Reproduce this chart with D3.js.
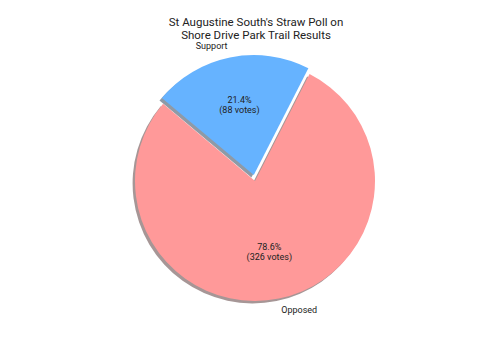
<!DOCTYPE html>
<html><head><meta charset="utf-8">
<script src="https://cdn.jsdelivr.net/npm/d3@7"></script>
<style>body{margin:0;background:#fff}svg{display:block}</style>
</head><body>
<svg id="c" width="500" height="350"></svg>
<script>
const categories = ["Support", "Opposed"];
const votes = [88, 326];
const percents = [21.4, 78.6];
const colors = ["#66b3ff", "#ff9999"];
const explode = [0.05, 0];
const titleLines = ["St Augustine South's Straw Poll on", "Shore Drive Park Trail Results"];

const W = 500, H = 350, cx = 255, cy = 181, R = 120;
const svg = d3.select("#c");
const font = "Roboto, 'Open Sans', sans-serif";

const data = categories.map((c, i) => ({cat: c, votes: votes[i], pct: percents[i], color: colors[i], explode: explode[i]}));
const pie = d3.pie().sort(null).value(d => d.pct).startAngle(-50 * Math.PI / 180).endAngle(310 * Math.PI / 180);
const arcs = pie(data);
const arc = d3.arc().innerRadius(0).outerRadius(R);

function offset(a) {
  const mid = (a.startAngle + a.endAngle) / 2;
  const e = a.data.explode * R;
  return [cx + e * Math.sin(mid), cy - e * Math.cos(mid)];
}

const g = svg.append("g");
const sh = R * 0.02;
// shadows
g.selectAll("path.shadow").data(arcs).join("path")
  .attr("class", "shadow")
  .attr("transform", d => { const [x, y] = offset(d); return `translate(${x - sh},${y + sh})`; })
  .attr("d", arc)
  .attr("fill", d => { const c = d3.rgb(d.data.color); return d3.rgb(c.r * 0.3, c.g * 0.3, c.b * 0.3); })
  .attr("fill-opacity", 0.5);
// wedges
g.selectAll("path.wedge").data(arcs).join("path")
  .attr("class", "wedge")
  .attr("transform", d => { const [x, y] = offset(d); return `translate(${x},${y})`; })
  .attr("d", arc)
  .attr("fill", d => d.data.color);

// category labels
arcs.forEach(d => {
  const [x, y] = offset(d);
  const mid = (d.startAngle + d.endAngle) / 2;
  const lx = x + 1.1 * R * Math.sin(mid), ly = y - 1.1 * R * Math.cos(mid);
  svg.append("text")
    .attr("x", lx).attr("y", ly)
    .attr("text-anchor", Math.sin(mid) < 0 ? "end" : "start")
    .attr("dominant-baseline", "central")
    .attr("font-family", font).attr("font-size", 9).attr("fill", "#222")
    .text(d.data.cat);
  const px = x + 0.6 * R * Math.sin(mid), py = y - 0.6 * R * Math.cos(mid);
  const t = svg.append("text")
    .attr("x", px).attr("y", py)
    .attr("text-anchor", "middle")
    .attr("font-family", font).attr("font-size", 9).attr("fill", "#222");
  t.append("tspan").attr("x", px).attr("y", py - 5).attr("dominant-baseline", "central").text(d.data.pct.toFixed(1) + "%");
  t.append("tspan").attr("x", px).attr("y", py + 5.5).attr("dominant-baseline", "central").text("(" + d.data.votes + " votes)");
});

// title
titleLines.forEach((l, i) => {
  svg.append("text")
    .attr("x", 256).attr("y", 22 + i * 12.5)
    .attr("text-anchor", "middle").attr("dominant-baseline", "central")
    .attr("font-family", font).attr("font-size", 11.5).attr("fill", "#222")
    .text(l);
});
</script>
</body></html>
